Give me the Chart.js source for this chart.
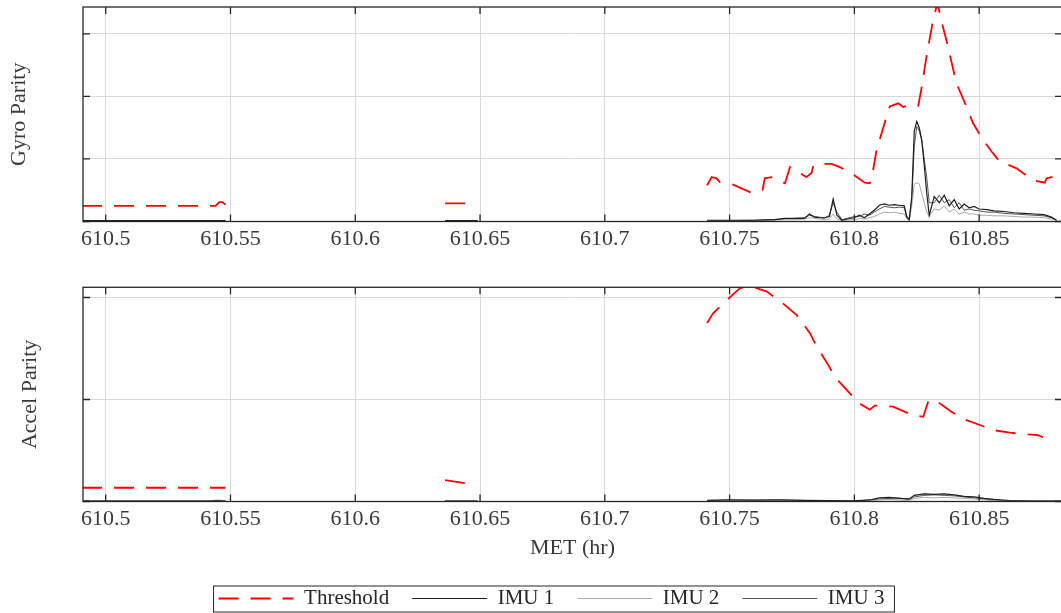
<!DOCTYPE html>
<html>
<head>
<meta charset="utf-8">
<script src="https://cdn.jsdelivr.net/npm/chart.js@4.4.1/dist/chart.umd.min.js"></script>
<style>
  html, body { margin: 0; padding: 0; background: #fff; }
  #wrap { position: relative; width: 1061px; height: 613px; overflow: hidden; }
  canvas { position: absolute; left: 0; }
</style>
</head>
<body>
<div id="wrap">
  <canvas id="gyro" width="1075" height="260" style="top:0"></canvas>
  <canvas id="accel" width="1075" height="359" style="top:260px"></canvas>
</div>
<script>
// ---- data (time in hours MET, parity in grid units) ----
const xTicks = [610.5, 610.55, 610.6, 610.65, 610.7, 610.75, 610.8, 610.85];
const xTickLabels = ['610.5', '610.55', '610.6', '610.65', '610.7', '610.75', '610.8', '610.85'];
const gyroYTicks = [0, 1, 2, 3];
const accelYTicks = [0, 1, 2];
const seriesNames = ['Threshold', 'IMU 1', 'IMU 2', 'IMU 3'];

// gyro threshold (null = data gap)
const gyroThrT = [610.4905, 610.544, 610.5455, 610.5468, 610.548, 610.59,
  610.636, 610.6425, 610.6487, 610.70,
  610.7410, 610.7428, 610.7448, 610.7461, 610.7514, 610.7588, 610.7632, 610.7641, 610.7668, 610.7722,
  610.7742, 610.7808, 610.7829, 610.7835, 610.7855, 610.7909, 610.7942, 610.7989, 610.8042, 610.8062,
  610.8073, 610.8089, 610.8129, 610.8142, 610.8176, 610.8196, 610.8216, 610.8256, 610.8269, 610.8289,
  610.8316, 610.8333, 610.8349, 610.8369, 610.8409, 610.8449, 610.8476, 610.8516, 610.8550, 610.8583,
  610.8603, 610.8650, 610.8716, 610.8763, 610.8770, 610.8790, 610.8830];
const gyroThr = [0.25, 0.25, 0.31, 0.31, 0.27, null,
  0.29, 0.29, 0.29, null,
  0.58, 0.71, 0.69, 0.63, 0.59, 0.46, 0.50, 0.69, 0.71, 0.61,
  0.87, 0.71, 0.78, 0.89, 0.92, 0.92, 0.87, 0.77, 0.62, 0.61,
  0.77, 1.14, 1.68, 1.84, 1.89, 1.83, 1.86, 1.85, 2.13, 2.64,
  3.23, 3.50, 3.20, 2.90, 2.21, 1.84, 1.57, 1.30, 1.12, 0.955,
  0.93, 0.85, 0.66, 0.62, 0.69, 0.71, 0.70];

// accel threshold
const accelThrT = [610.4905, 610.548, 610.59,
  610.636, 610.6412, 610.6457, 610.6487, 610.70,
  610.7410, 610.7434, 610.7474, 610.7514, 610.7541, 610.7568, 610.7588, 610.7648, 610.7715, 610.7768,
  610.7822, 610.7849, 610.7895, 610.7922, 610.7982, 610.8022, 610.8062, 610.8082, 610.8102, 610.8155,
  610.8229, 610.8276, 610.8296, 610.8322, 610.8349, 610.8389, 610.8436, 610.8503, 610.8556, 610.8623,
  610.8683, 610.8736, 610.8756];
const accelThr = [0.135, 0.135, null,
  0.21, 0.19, 0.175, 0.175, null,
  1.75, 1.845, 1.94, 2.03, 2.09, 2.11, 2.105, 2.06, 1.94, 1.83,
  1.65, 1.52, 1.34, 1.22, 1.06, 0.96, 0.90, 0.94, 0.94, 0.93,
  0.85, 0.83, 0.98, 1.00, 0.95, 0.88, 0.81, 0.75, 0.70, 0.675,
  0.66, 0.65, 0.63];

// gyro parity per IMU
const gyroT = [610.4905, 610.505, 610.52, 610.535, 610.548, 610.59,
  610.636, 610.6425, 610.649, 610.70,
  610.741, 610.750, 610.760, 610.768, 610.772, 610.776, 610.780, 610.782, 610.784, 610.786,
  610.788, 610.790, 610.7915, 610.793, 610.795, 610.797, 610.800, 610.802, 610.804, 610.806,
  610.808, 610.810, 610.812, 610.814, 610.816, 610.818, 610.820, 610.821, 610.822, 610.823,
  610.824, 610.825, 610.826, 610.827, 610.828, 610.829, 610.830, 610.832, 610.834, 610.836,
  610.838, 610.840, 610.842, 610.844, 610.846, 610.848, 610.850, 610.853, 610.856, 610.860,
  610.864, 610.868, 610.872, 610.876, 610.879, 610.881];
const gyroImu1 = [0.015, 0.015, 0.015, 0.015, 0.015, null,
  0.015, 0.015, 0.015, null,
  0.02, 0.02, 0.02, 0.03, 0.05, 0.05, 0.05, 0.12, 0.07, 0.06,
  0.06, 0.08, 0.36, 0.10, 0.02, 0.04, 0.06, 0.10, 0.06, 0.12,
  0.18, 0.26, 0.28, 0.26, 0.27, 0.26, 0.25, 0.08, 0.03, 0.40,
  1.45, 1.60, 1.50, 1.30, 0.90, 0.45, 0.10, 0.40, 0.30, 0.42,
  0.25, 0.35, 0.20, 0.28, 0.22, 0.24, 0.20, 0.19, 0.17, 0.16,
  0.14, 0.13, 0.12, 0.11, 0.07, 0.02];
const gyroImu2 = [0.008, 0.008, 0.008, 0.008, 0.008, null,
  0.008, 0.008, 0.008, null,
  0.01, 0.01, 0.01, 0.02, 0.03, 0.03, 0.04, 0.06, 0.05, 0.04,
  0.03, 0.04, 0.12, 0.04, 0.02, 0.02, 0.03, 0.05, 0.04, 0.06,
  0.08, 0.12, 0.15, 0.14, 0.15, 0.13, 0.12, 0.04, 0.02, 0.25,
  0.60, 0.62, 0.60, 0.45, 0.30, 0.15, 0.08, 0.20, 0.18, 0.25,
  0.15, 0.20, 0.12, 0.15, 0.12, 0.12, 0.10, 0.10, 0.09, 0.09,
  0.08, 0.07, 0.07, 0.06, 0.04, 0.02];
const gyroImu3 = [0.012, 0.012, 0.012, 0.012, 0.012, null,
  0.012, 0.012, 0.012, null,
  0.015, 0.015, 0.02, 0.03, 0.04, 0.05, 0.06, 0.10, 0.08, 0.07,
  0.05, 0.10, 0.30, 0.15, 0.03, 0.05, 0.08, 0.08, 0.12, 0.10,
  0.15, 0.20, 0.24, 0.23, 0.22, 0.23, 0.22, 0.06, 0.04, 0.35,
  1.20, 1.52, 1.45, 1.30, 1.00, 0.70, 0.30, 0.30, 0.42, 0.30,
  0.35, 0.22, 0.30, 0.18, 0.20, 0.18, 0.17, 0.15, 0.15, 0.13,
  0.12, 0.11, 0.10, 0.09, 0.06, 0.02];

// accel parity per IMU
const accelT = [610.4905, 610.52, 610.540, 610.545, 610.548, 610.59,
  610.636, 610.649, 610.70,
  610.741, 610.750, 610.760, 610.770, 610.780, 610.790, 610.800, 610.806, 610.810, 610.814,
  610.818, 610.822, 610.824, 610.828, 610.832, 610.836, 610.840, 610.844, 610.848, 610.852,
  610.856, 610.862, 610.870, 610.883];
const accelImu1 = [0.005, 0.005, 0.005, 0.006, 0.005, null,
  0.005, 0.005, null,
  0.012, 0.015, 0.014, 0.015, 0.012, 0.010, 0.006, 0.015, 0.035, 0.040,
  0.030, 0.025, 0.060, 0.075, 0.070, 0.075, 0.065, 0.050, 0.045, 0.030,
  0.020, 0.010, 0.005, 0.005];
const accelImu2 = [0.004, 0.004, 0.004, 0.015, 0.008, null,
  0.004, 0.004, null,
  0.008, 0.010, 0.009, 0.010, 0.008, 0.006, 0.004, 0.008, 0.015, 0.020,
  0.015, 0.012, 0.030, 0.040, 0.035, 0.040, 0.035, 0.030, 0.025, 0.015,
  0.010, 0.006, 0.004, 0.004];
const accelImu3 = [0.005, 0.005, 0.005, 0.005, 0.005, null,
  0.005, 0.005, null,
  0.010, 0.012, 0.012, 0.013, 0.010, 0.008, 0.005, 0.012, 0.025, 0.030,
  0.035, 0.020, 0.045, 0.060, 0.065, 0.060, 0.055, 0.045, 0.035, 0.025,
  0.015, 0.008, 0.005, 0.005];

// ---- styling ----
const FONT = 'Liberation Serif';
const INK = '#262626';
const TEXT = '#3a3a3a';
const GRID = '#d8d8d8';
const X_MIN = 610.4909;
const X_MAX = 610.8832;

const toPoints = (ts, vs) => ts.map((t, i) => ({ x: t, y: vs[i] }));

function makeDatasets(thrT, thr, t, s1, s2, s3) {
  return [
    { label: seriesNames[0], data: toPoints(thrT, thr), borderColor: '#ff0000', borderWidth: 1.8, borderDash: [20, 12] },
    { label: seriesNames[1], data: toPoints(t, s1), borderColor: '#1e1e1e', borderWidth: 1.2 },
    { label: seriesNames[2], data: toPoints(t, s2), borderColor: '#a8a8a8', borderWidth: 1 },
    { label: seriesNames[3], data: toPoints(t, s3), borderColor: '#555555', borderWidth: 1 }
  ].map(d => Object.assign({ pointRadius: 0, tension: 0, spanGaps: false, fill: false }, d));
}

// box around the plot with MATLAB-style inward tick marks
const axesBox = {
  id: 'axesBox',
  afterDatasetsDraw(chart) {
    const { ctx, chartArea: a, scales } = chart;
    const L = 7;
    ctx.save();
    ctx.strokeStyle = INK;
    ctx.lineWidth = 1.3;
    ctx.strokeRect(a.left, a.top, a.right - a.left, a.bottom - a.top);
    ctx.beginPath();
    scales.x.ticks.forEach(t => {
      const px = scales.x.getPixelForValue(t.value);
      ctx.moveTo(px, a.bottom); ctx.lineTo(px, a.bottom - L);
      ctx.moveTo(px, a.top); ctx.lineTo(px, a.top + L);
    });
    scales.y.ticks.forEach(t => {
      const py = scales.y.getPixelForValue(t.value);
      ctx.moveTo(a.left, py); ctx.lineTo(a.left + L, py);
      ctx.moveTo(a.right, py); ctx.lineTo(a.right - L, py);
    });
    ctx.stroke();
    ctx.restore();
  }
};

// frame around the legend
const legendBox = {
  id: 'legendBox',
  afterDraw(chart) {
    const hb = chart.legend && chart.legend.legendHitBoxes;
    if (!hb || !hb.length) return;
    const first = hb[0], last = hb[hb.length - 1];
    const x0 = first.left - 5, x1 = last.left + last.width + 10;
    const y0 = first.top - 2, y1 = first.top + first.height + 3;
    const ctx = chart.ctx;
    ctx.save();
    ctx.strokeStyle = INK;
    ctx.lineWidth = 1;
    ctx.strokeRect(x0, y0, x1 - x0, y1 - y0);
    ctx.restore();
  }
};

// legend samples take the line style of each dataset
function lineLabels(chart) {
  return Chart.defaults.plugins.legend.labels.generateLabels(chart).map((item, i) => {
    const ds = chart.data.datasets[i];
    item.lineDash = ds.borderDash || [];
    item.lineWidth = ds.borderWidth;
    item.strokeStyle = ds.borderColor;
    item.fillStyle = ds.borderColor;
    return item;
  });
}

function xScale(height, withTitle) {
  return {
    type: 'linear',
    min: X_MIN,
    max: X_MAX,
    afterBuildTicks: s => { s.ticks = xTicks.map(v => ({ value: v })); },
    afterFit: s => { s.height = height; },
    ticks: {
      autoSkip: false, maxRotation: 0, padding: 5, color: TEXT,
      font: { family: FONT, size: 22 },
      callback: (v, i) => xTickLabels[i]
    },
    grid: { color: GRID, drawTicks: false },
    border: { display: false },
    title: {
      display: withTitle, text: 'MET (hr)', color: TEXT,
      font: { family: FONT, size: 22 }, padding: { top: 0, bottom: 4 }
    }
  };
}

function yScale(max, ticks, width, title, titlePad) {
  return {
    min: 0,
    max: max,
    afterBuildTicks: s => { s.ticks = ticks.map(v => ({ value: v })); },
    afterFit: s => { s.width = width; },
    ticks: { display: false },
    grid: { color: GRID, drawTicks: false },
    border: { display: false },
    title: {
      display: true, text: title, color: TEXT,
      font: { family: FONT, size: 22 }, padding: { top: titlePad, bottom: 0 }
    }
  };
}

new Chart(document.getElementById('gyro'), {
  type: 'line',
  data: { datasets: makeDatasets(gyroThrT, gyroThr, gyroT, gyroImu1, gyroImu2, gyroImu3) },
  options: {
    responsive: false,
    animation: false,
    layout: { padding: { left: 0, right: 13, top: 7, bottom: 0 } },
    plugins: { legend: { display: false }, tooltip: { enabled: false } },
    scales: {
      x: xScale(38.5, false),
      y: yScale(3.43, gyroYTicks, 83, 'Gyro Parity', 6.5)
    }
  },
  plugins: [axesBox]
});

new Chart(document.getElementById('accel'), {
  type: 'line',
  data: { datasets: makeDatasets(accelThrT, accelThr, accelT, accelImu1, accelImu2, accelImu3) },
  options: {
    responsive: false,
    animation: false,
    layout: { padding: { left: 41, right: 13, top: 27.3, bottom: 0 } },
    plugins: {
      tooltip: { enabled: false },
      legend: {
        display: true,
        position: 'bottom',
        labels: {
          usePointStyle: true, pointStyle: 'line', pointStyleWidth: 75, boxHeight: 21,
          padding: 23, color: INK, font: { family: FONT, size: 21 },
          generateLabels: lineLabels
        }
      }
    },
    scales: {
      x: xScale(63.5, true),
      y: yScale(2.1, accelYTicks, 42, 'Accel Parity', -24)
    }
  },
  plugins: [axesBox, legendBox]
});
</script>
</body>
</html>
